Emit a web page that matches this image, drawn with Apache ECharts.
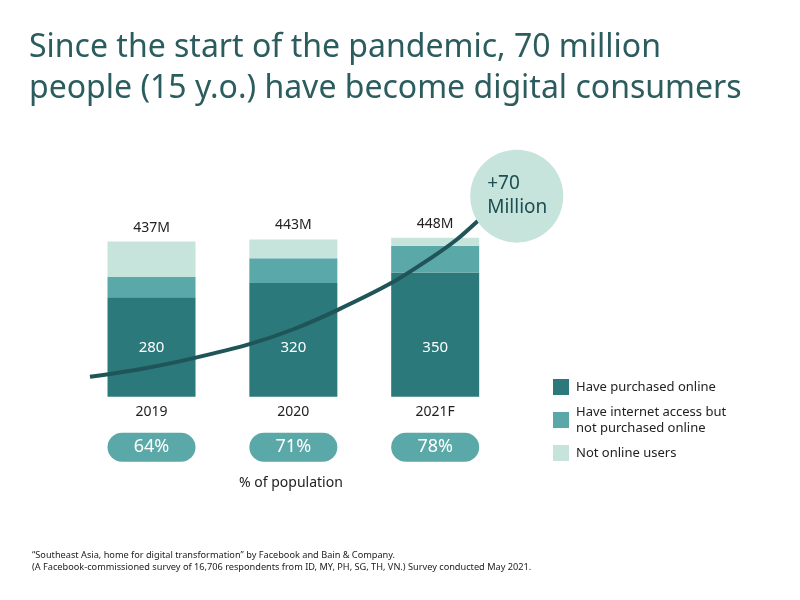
<!DOCTYPE html>
<html>
<head>
<meta charset="utf-8">
<script src="https://cdn.jsdelivr.net/npm/echarts@6/dist/echarts.min.js"></script>
<style>html,body{margin:0;padding:0;background:#fff}#c{width:800px;height:600px}</style>
</head>
<body>
<div id="c"></div>
<script>
var categories = ['2019', '2020', '2021F'];
var purchased = [280, 320, 350];
var internetNotPurchased = [57, 70, 75];
var notOnline = [100, 53, 23];
var totals = ['437M', '443M', '448M'];
var shares = ['64%', '71%', '78%'];
// growth curve, in axis units (x: category position 0..3, y: millions)
var curveX = [0.066, 0.466, 0.79, 1.19, 1.5, 1.81, 2.19, 2.49, 2.65, 2.80];
var curveY = [56, 81, 108, 148, 190, 244, 320, 396, 442, 495];
var bubble = [[3.075, 565]];
var bubbleText = '+70\nMillion';

var C_DARK = '#2b797a', C_MID = '#5aa8a8', C_LIGHT = '#c6e4dc';
var FONT = 'Noto Sans';

var chart = echarts.init(document.getElementById('c'));
chart.setOption({
  backgroundColor: '#fff',
  animation: false,
  textStyle: { fontFamily: FONT },
  title: [
    { text: 'Since the start of the pandemic, 70 million\npeople (15 y.o.) have become digital consumers',
      left: 24, top: 22,
      textStyle: { fontFamily: FONT, fontSize: 32, fontWeight: 'normal', color: '#2b5c5e', lineHeight: 41 } },
    { text: '% of population', left: 234, top: 471,
      textStyle: { fontFamily: FONT, fontSize: 14, fontWeight: 'normal', color: '#222' } },
    { text: '“Southeast Asia, home for digital transformation” by Facebook and Bain & Company.\n(A Facebook-commissioned survey of 16,706 respondents from ID, MY, PH, SG, TH, VN.) Survey conducted May 2021.',
      left: 27, top: 544,
      textStyle: { fontFamily: FONT, fontSize: 9.2, fontWeight: 'normal', color: '#222', lineHeight: 12.5 } }
  ],
  legend: {
    orient: 'vertical', left: 548, top: 374,
    itemWidth: 16, itemHeight: 16, itemGap: 9,
    icon: 'rect',
    data: ['Have purchased online', 'Have internet access but not purchased online', 'Not online users'],
    formatter: function (n) { return n.replace(' but ', ' but\n'); },
    textStyle: { fontFamily: FONT, fontSize: 13, color: '#222', lineHeight: 16, padding: [0, 0, 0, 2] }
  },
  grid: { left: 80.6, right: 293.9, top: 183.7, bottom: 203.3 },
  xAxis: [
    { type: 'category', data: categories,
      axisLine: { show: false }, axisTick: { show: false },
      axisLabel: { color: '#222', fontSize: 14, margin: 8, fontFamily: FONT } },
    { type: 'value', min: 0, max: 3, show: false },
    { type: 'category', data: categories, position: 'bottom',
      axisLine: { show: false }, axisTick: { show: false },
      axisLabel: {
        margin: 36,
        formatter: function (v, i) { return '{p|' + shares[i] + '}'; },
        rich: { p: { backgroundColor: C_MID, borderRadius: 15, width: 88, height: 29, lineHeight: 29,
          align: 'center', color: '#fff', fontSize: 18, fontFamily: FONT } }
      } }
  ],
  yAxis: { type: 'value', min: 0, max: 600, show: false },
  series: [
    { name: 'Have purchased online', type: 'bar', stack: 'a', barWidth: 88, data: purchased,
      itemStyle: { color: C_DARK },
      label: { show: true, position: 'insideBottom', distance: 41, color: '#fff', fontSize: 15, fontFamily: FONT } },
    { name: 'Have internet access but not purchased online', type: 'bar', stack: 'a', data: internetNotPurchased,
      itemStyle: { color: C_MID } },
    { name: 'Not online users', type: 'bar', stack: 'a', data: notOnline,
      itemStyle: { color: C_LIGHT },
      label: { show: true, position: 'top', distance: 7, color: '#222', fontSize: 14, fontFamily: FONT,
        formatter: function (p) { return totals[p.dataIndex]; } } },
    { type: 'line', xAxisIndex: 1, smooth: 0.3, symbol: 'none', clip: false, z: 5,
      data: curveX.map(function (x, i) { return [x, curveY[i]]; }),
      lineStyle: { color: '#1f5558', width: 4 } },
    { type: 'scatter', xAxisIndex: 1, clip: false, z: 6, symbolSize: 93, data: bubble,
      itemStyle: { color: C_LIGHT, opacity: 1 },
      label: { show: true, position: [17, 46], align: 'left', verticalAlign: 'middle',
        formatter: bubbleText, color: '#1d4e51', fontSize: 19, lineHeight: 24, fontFamily: FONT } }
  ]
});
</script>
</body>
</html>
